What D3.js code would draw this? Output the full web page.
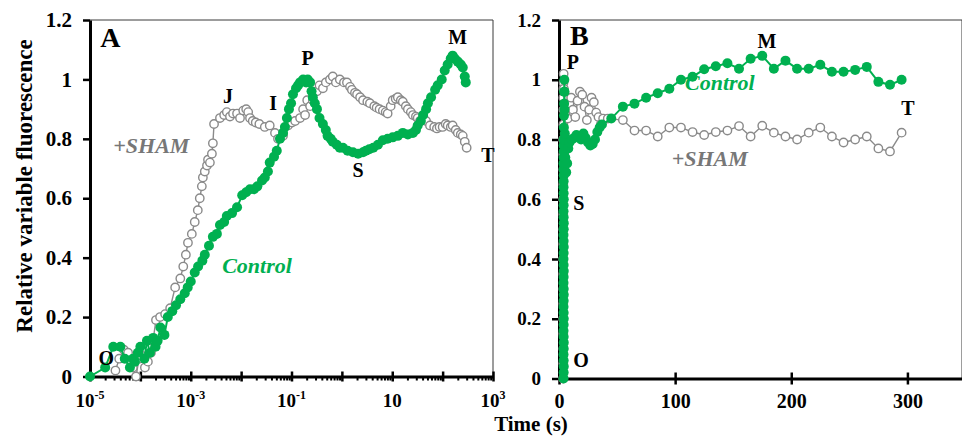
<!DOCTYPE html>
<html><head><meta charset="utf-8">
<script src="https://cdn.jsdelivr.net/npm/d3@7"></script>
<style>
body{margin:0;background:#fff;}
svg{display:block;font-family:"Liberation Serif","Times New Roman",serif;font-weight:bold;}
</style></head><body>
<svg id="chart" width="962" height="437"></svg>
<script>
// ---------- Panel A data (time in s, log axis) ----------
const controlA_t = [1e-5,2.0e-5,2.9e-5,4.0e-5,4.9e-5,6.2e-5,7.1e-5,7.8e-5,8.9e-5,1.0e-4,
 1.2e-4,1.35e-4,1.55e-4,1.8e-4,2.0e-4,2.2e-4,2.5e-4,3.0e-4,3.5e-4,4.3e-4,
 5.1e-4,6.2e-4,7.6e-4,8.7e-4,1.0e-3,1.2e-3,1.4e-3,1.7e-3,1.9e-3,2.3e-3,
 2.75e-3,3.3e-3,3.8e-3,4.6e-3,5.2e-3,6.6e-3,8.3e-3,1.05e-2,1.26e-2,1.5e-2,
 1.8e-2,2.1e-2,2.6e-2,2.95e-2,3.4e-2,3.7e-2,4.5e-2,5.1e-2,5.9e-2,6.8e-2,
 7.4e-2,8.1e-2,8.9e-2,9.8e-2,0.107,0.123,0.135,0.148,0.17,0.195,
 0.21,0.234,0.25,0.265,0.29,0.32,0.36,0.42,0.48,0.52,
 0.60,0.66,0.79,0.91,1.05,1.3,1.66,2.1,2.63,3.0,
 3.5,4.2,5.2,6.5,8.1,10.2,12.9,16.2,20.4,25.7,
 29.5,32,37,41,47,51,59,71,80,96,
 110,126,145,158,174,200,229,251,275,288];
const controlA_v = [0,0.03,0.10,0.10,0.06,0.03,0.06,0.05,0.08,0.10,
 0.06,0.12,0.08,0.13,0.10,0.12,0.165,0.14,0.20,0.22,
 0.24,0.26,0.28,0.30,0.32,0.35,0.37,0.39,0.41,0.44,
 0.47,0.48,0.51,0.52,0.54,0.55,0.57,0.61,0.62,0.63,
 0.63,0.64,0.66,0.67,0.69,0.72,0.74,0.76,0.80,0.82,
 0.84,0.87,0.90,0.92,0.95,0.97,0.98,0.99,1.0,0.99,
 1.0,0.99,0.96,0.94,0.92,0.90,0.87,0.85,0.83,0.81,
 0.80,0.79,0.78,0.77,0.77,0.76,0.755,0.75,0.755,0.76,
 0.765,0.77,0.78,0.795,0.80,0.805,0.81,0.82,0.815,0.82,
 0.83,0.845,0.86,0.88,0.90,0.92,0.94,0.965,0.98,1.0,
 1.03,1.05,1.07,1.08,1.07,1.06,1.05,1.04,1.01,0.99];
const shamA_t = [3.2e-5,3.8e-5,4.7e-5,5.7e-5,6.5e-5,7.1e-5,8.2e-5,9.4e-5,1.07e-4,1.23e-4,
 1.41e-4,1.62e-4,1.78e-4,2.04e-4,2.46e-4,3.1e-4,3.9e-4,4.9e-4,6.2e-4,7.1e-4,
 8.0e-4,8.8e-4,1.05e-3,1.2e-3,1.38e-3,1.51e-3,1.66e-3,1.74e-3,1.9e-3,2.1e-3,
 2.2e-3,2.4e-3,2.63e-3,2.75e-3,2.9e-3,3.8e-3,4.6e-3,5.2e-3,6.0e-3,6.9e-3,
 8.3e-3,9.5e-3,1.1e-2,1.26e-2,1.38e-2,1.5e-2,1.7e-2,1.95e-2,2.3e-2,2.95e-2,
 3.7e-2,4.7e-2,5.4e-2,6.8e-2,8.5e-2,0.102,0.118,0.148,0.17,0.186,
 0.205,0.234,0.265,0.32,0.36,0.42,0.48,0.58,0.66,0.76,
 0.91,1.1,1.26,1.45,1.58,1.82,2.0,2.3,2.63,3.2,
 3.6,4.4,4.9,5.6,6.5,7.4,8.1,9.3,10.2,11.7,
 12.9,14.8,16.2,18.6,20.4,23.4,25.7,29.5,32,35.5,
 41,47,56,68,77,87,100,115,126,145,
 158,182,200,229,251,275,300];
const shamA_v = [0.02,0.06,0.09,0.08,0.05,0.03,0.0,0.06,0.07,0.03,
 0.05,0.08,0.12,0.19,0.20,0.21,0.23,0.30,0.33,0.37,
 0.41,0.45,0.48,0.52,0.56,0.60,0.64,0.67,0.69,0.71,
 0.73,0.72,0.75,0.785,0.85,0.87,0.88,0.89,0.875,0.885,
 0.885,0.87,0.895,0.90,0.89,0.87,0.86,0.855,0.85,0.84,
 0.845,0.82,0.80,0.81,0.845,0.855,0.86,0.87,0.90,0.88,
 0.93,0.91,0.93,0.96,0.98,0.97,0.99,1.0,1.01,0.99,
 1.0,0.99,0.99,0.975,0.965,0.955,0.95,0.94,0.93,0.925,
 0.92,0.91,0.905,0.90,0.895,0.89,0.885,0.91,0.93,0.935,
 0.94,0.93,0.925,0.91,0.90,0.89,0.88,0.875,0.87,0.86,
 0.875,0.86,0.845,0.84,0.835,0.84,0.84,0.85,0.845,0.84,
 0.845,0.83,0.82,0.815,0.81,0.79,0.77];

// ---------- Panel B data (time in s, linear axis) ----------
const controlB_t = [3.9,4.0,4.1,4.0,3.9,4.0,4.1,4.0,3.9,4.0,4.1,4.0,3.9,4.0,4.1,4.0,3.9,4.0,4.1,4.0,
 3.9,4.0,4.1,4.0,3.9,4.0,4.1,4.0,3.9,4.0,4.1,4.0,3.9,4.0,4.1,4.0,3.9,4.0,4.1,4.0,
 4.1,4.2,4.3,4.4,4.5,4.6,4.7,4.8,5.0,5.4,6.2,7,8,9,11,13,15,17,19,21,23,25,27,29,31,33,35,37,
 45,55,65,75,85,95,105,115,125,135,145,155,165,175,185,195,205,215,225,235,245,255,265,275,285,295];
const controlB_v = [0,0.02,0.04,0.06,0.08,0.10,0.12,0.14,0.16,0.18,0.20,0.22,0.24,0.26,0.28,0.30,0.32,0.34,0.36,0.38,
 0.40,0.42,0.44,0.46,0.48,0.50,0.52,0.54,0.56,0.58,0.60,0.62,0.64,0.66,0.68,0.70,0.72,0.74,0.76,0.78,
 0.80,0.84,0.88,0.92,0.96,1.0,0.96,0.90,0.82,0.74,0.69,0.72,0.77,0.79,0.80,0.805,0.815,0.81,0.80,0.82,0.805,0.79,0.78,0.785,0.80,0.825,0.84,0.85,
 0.87,0.91,0.92,0.94,0.955,0.97,1.0,1.01,1.035,1.045,1.055,1.037,1.07,1.08,1.037,1.064,1.037,1.037,1.05,1.027,1.027,1.033,1.043,0.993,0.983,1.0];
const shamB_t = [3.6,3.7,3.8,3.7,3.6,3.7,3.8,3.7,3.6,3.7,3.8,3.7,3.6,3.7,3.8,3.7,3.6,3.7,3.8,3.7,3.8,3.9,4.0,4.2,5.0,6.0,7.5,9,10.5,12,14,16,18,20,22,24,26,28,30,32,34,36,38,42,
 55,65,75,85,95,105,115,125,135,145,155,165,175,185,195,205,215,225,235,245,255,265,275,285,295];
const shamB_v = [0,0.05,0.10,0.15,0.20,0.25,0.30,0.35,0.40,0.45,0.50,0.55,0.60,0.65,0.70,0.75,0.80,0.85,0.90,0.94,0.97,0.99,1.02,0.97,0.92,0.88,0.87,0.92,0.94,0.90,0.875,0.93,0.96,0.95,0.91,0.865,0.90,0.94,0.925,0.89,0.875,0.85,0.87,0.87,
 0.865,0.83,0.83,0.81,0.84,0.84,0.825,0.815,0.825,0.83,0.845,0.81,0.846,0.823,0.81,0.80,0.823,0.84,0.81,0.79,0.80,0.81,0.77,0.76,0.823];

// ---------- Axis ticks / labels ----------
const yTicks = [0,0.2,0.4,0.6,0.8,1,1.2];
const xTicksA = [1e-5,1e-3,1e-1,1e1,1e3];
const xTickBaseA = ["10","10","10","10","10"];
const xTickExpA = ["-5","-3","-1","","3"];
const xTicksB = [0,100,200,300];

// Phase annotations (label, time, value)
const annotA = [["O",2.1e-5,0.039],["J",5.5e-3,0.92],["I",0.043,0.897],["P",0.21,1.048],["S",2.1,0.672],["M",200,1.12],["T",790,0.722]];
const annotB = [["P",12,1.036],["S",17,0.564],["O",19,0.038],["M",179,1.106],["T",300.5,0.882]];

const GREEN = "#00b050", GRAY = "#8a8a8a", TGRAY = "#777777";
const svg = d3.select("#chart");

function panel(cfg){
  const {x, y, x0, y0, x1, y1, xAxisFn, ctrl, sham, annots, letter, letterPos, shamPos, ctrlPos, ytfs} = cfg;
  const g = svg.append("g");
  g.append("line").attr("x1",x0).attr("x2",x1).attr("y1",y1).attr("y2",y1).attr("stroke","#3a3a3a").attr("stroke-width",1);
  g.append("line").attr("x1",x1).attr("x2",x1).attr("y1",y1).attr("y2",y0).attr("stroke","#3a3a3a").attr("stroke-width",1);
  const ya = g.append("g").attr("transform",`translate(${x0},0)`)
    .call(d3.axisLeft(y).tickValues(yTicks).tickSize(7).tickSizeOuter(0).tickPadding(11).tickFormat(d3.format("~g")));
  ya.select(".domain").attr("stroke","#000").attr("stroke-width",3);
  ya.selectAll(".tick line").attr("stroke","#000").attr("stroke-width",2.5);
  ya.selectAll(".tick text").attr("font-size",ytfs).attr("font-family","Liberation Serif").attr("font-weight","bold").attr("fill","#000");
  xAxisFn(g);
  const line = d3.line().x(d=>x(d[0])).y(d=>y(d[1]));
  g.append("path").datum(sham).attr("d",line).attr("fill","none").attr("stroke",GRAY).attr("stroke-width",1.4);
  g.selectAll(".sh").data(sham).join("circle").attr("cx",d=>x(d[0])).attr("cy",d=>y(d[1])).attr("r",4.2)
    .attr("fill","#fff").attr("stroke",GRAY).attr("stroke-width",1.4);
  g.append("path").datum(ctrl).attr("d",line).attr("fill","none").attr("stroke",GREEN).attr("stroke-width",2);
  g.selectAll(".ct").data(ctrl).join("circle").attr("cx",d=>x(d[0])).attr("cy",d=>y(d[1])).attr("r",5).attr("fill",GREEN);
  g.selectAll(".an").data(annots).join("text").attr("x",d=>x(d[1])).attr("y",d=>y(d[2])).attr("text-anchor","middle")
    .attr("font-size",20).attr("fill","#000").text(d=>d[0]);
  g.append("text").attr("x",x(letterPos[0])).attr("y",y(letterPos[1])).attr("font-size",28).attr("fill","#000").text(letter);
  g.append("text").attr("x",x(shamPos[0])).attr("y",y(shamPos[1])).attr("font-size",22).attr("font-style","italic").attr("fill",TGRAY).text("+SHAM");
  g.append("text").attr("x",x(ctrlPos[0])).attr("y",y(ctrlPos[1])).attr("font-size",22).attr("font-style","italic").attr("fill",GREEN).text("Control");
}

// Panel A
const xA = d3.scaleLog().domain([1e-5,1e3]).range([90,493]);
const yA = d3.scaleLinear().domain([0,1.2]).range([376.5,20]);
panel({x:xA, y:yA, x0:90, y0:376.5, x1:493, y1:20, ytfs:21,
  ctrl: controlA_t.map((t,i)=>[t,controlA_v[i]]),
  sham: shamA_t.map((t,i)=>[t,shamA_v[i]]),
  annots: annotA, letter:"A", letterPos:[1.6e-5,1.109], shamPos:[2.9e-5,0.752], ctrlPos:[4.2e-3,0.348],
  xAxisFn: g=>{
    const majors = d3.range(-5,4).map(e=>Math.pow(10,e));
    const minors = [];
    for(let e=-5;e<3;e++) for(let m=2;m<10;m++) minors.push(m*Math.pow(10,e));
    const ax = g.append("g").attr("transform","translate(0,376.5)");
    ax.call(d3.axisBottom(xA).tickValues(minors).tickSize(4).tickSizeOuter(0).tickFormat(""));
    ax.selectAll(".tick line").attr("stroke","#000").attr("stroke-width",2);
    ax.select(".domain").attr("stroke","#000").attr("stroke-width",3);
    const mj = g.append("g").attr("transform","translate(0,376.5)");
    mj.call(d3.axisBottom(xA).tickValues(majors).tickSize(5).tickSizeOuter(0).tickFormat(""));
    mj.select(".domain").remove();
    mj.selectAll(".tick line").attr("y1",-5).attr("stroke","#000").attr("stroke-width",2.5);
    const lab = g.selectAll(".xl").data(xTicksA).join("text").attr("x",d=>xA(d)).attr("y",407)
      .attr("text-anchor","middle").attr("font-size",19).attr("fill","#000");
    lab.append("tspan").text((d,i)=>xTickBaseA[i]);
    lab.append("tspan").attr("font-size",12).attr("dy",-8).text((d,i)=>xTickExpA[i]);
  }
});

// Panel B
const xB = d3.scaleLinear().domain([0,347]).range([559,962]);
const yB = d3.scaleLinear().domain([0,1.2]).range([378.5,20]);
panel({x:xB, y:yB, x0:559, y0:378.5, x1:962, y1:20, ytfs:19,
  ctrl: controlB_t.map((t,i)=>[t,controlB_v[i]]),
  sham: shamB_t.map((t,i)=>[t,shamB_v[i]]),
  annots: annotB, letter:"B", letterPos:[9.5,1.115], shamPos:[97,0.711], ctrlPos:[108.5,0.966],
  xAxisFn: g=>{
    const ax = g.append("g").attr("transform","translate(0,378.5)");
    ax.call(d3.axisBottom(xB).tickValues(xTicksB).tickSize(6).tickSizeOuter(0).tickPadding(9).tickFormat(d3.format("d")));
    ax.select(".domain").attr("stroke","#000").attr("stroke-width",3);
    ax.selectAll(".tick line").attr("y1",-6).attr("stroke","#000").attr("stroke-width",2.5);
    ax.selectAll(".tick text").attr("font-size",20).attr("font-family","Liberation Serif").attr("font-weight","bold").attr("fill","#000");
  }
});

// Axis titles
svg.append("text").attr("transform","translate(32,186) rotate(-90)").attr("text-anchor","middle")
  .attr("font-size",23).attr("fill","#000").text("Relative variable fluorescence");
svg.append("text").attr("x",531).attr("y",431).attr("text-anchor","middle")
  .attr("font-size",21).attr("fill","#000").text("Time (s)");
</script>
</body></html>
